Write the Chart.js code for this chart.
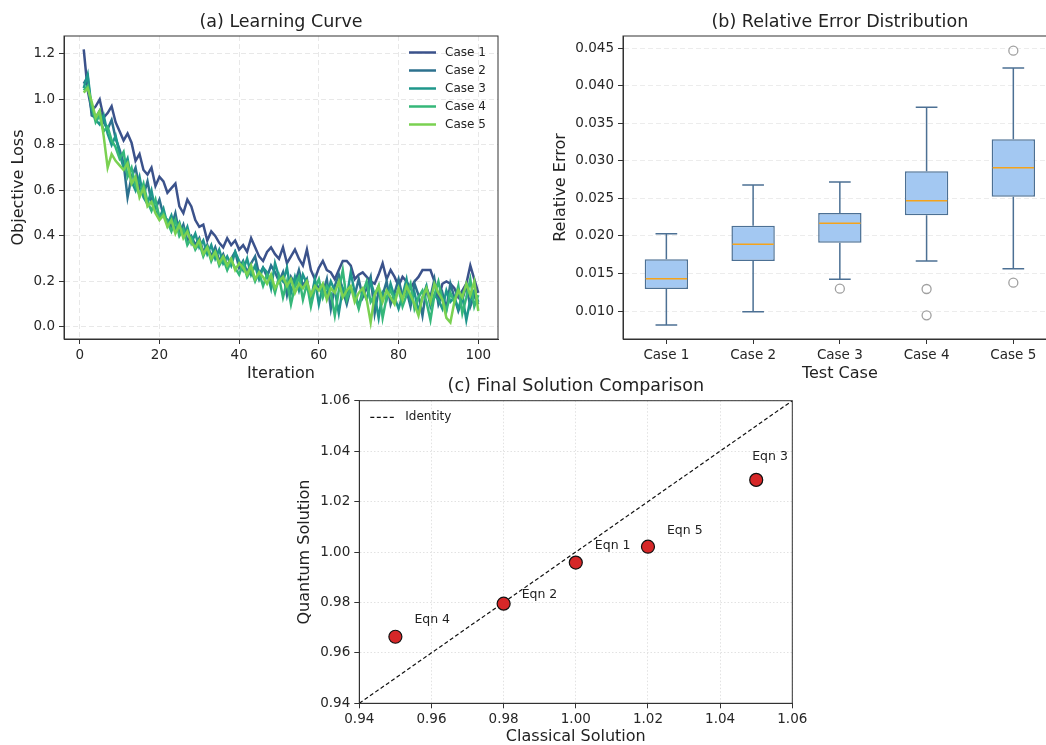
<!DOCTYPE html>
<html>
<head>
<meta charset="utf-8">
<script src="https://cdn.jsdelivr.net/npm/chart.js@4.4.1/dist/chart.umd.min.js"></script>
<style>
  html, body { margin: 0; padding: 0; background: #fff; overflow: hidden; width: 1046px; height: 745px; }
  canvas { position: absolute; }
  #learn { left: 0; top: 0; }
  #boxes { left: 530px; top: 0; }
  #compare { left: 280px; top: 370px; }
</style>
</head>
<body>
<canvas id="learn" width="520" height="390"></canvas>
<canvas id="boxes" width="540" height="390"></canvas>
<canvas id="compare" width="540" height="375"></canvas>
<script>
// ---- (a) learning curve data ----
const caseNames = ["Case 1", "Case 2", "Case 3", "Case 4", "Case 5"];
const caseColors = ["#3b528b", "#2c718e", "#1f978b", "#35b779", "#7ad151"];
const iterations = Array.from({ length: 100 }, (_, i) => i + 1);
const lossTicks = [0.0, 0.2, 0.4, 0.6, 0.8, 1.0, 1.2];
const iterTicks = [0, 20, 40, 60, 80, 100];

const lossCase1 = [
    1.22, 1.04, 0.95, 0.97, 1.00, 0.92, 0.94, 0.97, 0.90, 0.86,
    0.82, 0.85, 0.81, 0.73, 0.76, 0.69, 0.67, 0.70, 0.62, 0.66,
    0.64, 0.59, 0.61, 0.63, 0.53, 0.50, 0.56, 0.53, 0.47, 0.44,
    0.45, 0.38, 0.42, 0.40, 0.37, 0.35, 0.39, 0.36, 0.38, 0.34,
    0.36, 0.33, 0.39, 0.35, 0.31, 0.29, 0.33, 0.35, 0.32, 0.30,
    0.35, 0.28, 0.31, 0.34, 0.30, 0.27, 0.34, 0.25, 0.21, 0.26,
    0.29, 0.25, 0.24, 0.21, 0.25, 0.29, 0.29, 0.27, 0.21, 0.23,
    0.24, 0.22, 0.20, 0.19, 0.23, 0.28, 0.21, 0.25, 0.22, 0.18,
    0.22, 0.20, 0.17, 0.20, 0.22, 0.25, 0.25, 0.25, 0.20, 0.12,
    0.19, 0.20, 0.19, 0.17, 0.13, 0.16, 0.19, 0.27, 0.21, 0.15
];
const lossCase2 = [
    1.07, 1.10, 0.93, 0.92, 0.95, 0.90, 0.87, 0.91, 0.83, 0.78,
    0.72, 0.57, 0.66, 0.70, 0.61, 0.58, 0.64, 0.55, 0.52, 0.56,
    0.49, 0.47, 0.44, 0.50, 0.41, 0.45, 0.38, 0.40, 0.36, 0.39,
    0.33, 0.36, 0.31, 0.35, 0.29, 0.32, 0.27, 0.30, 0.33, 0.26,
    0.29, 0.24, 0.28, 0.31, 0.23, 0.26, 0.22, 0.27, 0.24, 0.20,
    0.24, 0.14, 0.22, 0.19, 0.25, 0.18, 0.21, 0.11, 0.20, 0.17,
    0.15, 0.21, 0.08, 0.18, 0.23, 0.16, 0.10, 0.17, 0.14, 0.21,
    0.13, 0.17, 0.22, 0.06, 0.16, 0.14, 0.20, 0.10, 0.15, 0.21,
    0.13, 0.16, 0.09, 0.19, 0.14, 0.05, 0.17, 0.13, 0.21, 0.10,
    0.15, 0.08, 0.19, 0.13, 0.07, 0.12, 0.18, 0.09, 0.14, 0.10
];
const lossCase3 = [
    1.05, 1.11, 0.96, 0.91, 0.89, 0.93, 0.85, 0.80, 0.84, 0.76,
    0.70, 0.74, 0.64, 0.60, 0.66, 0.57, 0.54, 0.60, 0.51, 0.48,
    0.52, 0.45, 0.49, 0.43, 0.46, 0.40, 0.44, 0.37, 0.41, 0.35,
    0.38, 0.32, 0.36, 0.30, 0.34, 0.28, 0.31, 0.27, 0.33, 0.29,
    0.25, 0.30, 0.23, 0.27, 0.21, 0.26, 0.24, 0.17, 0.28, 0.22,
    0.20, 0.26, 0.15, 0.22, 0.16, 0.23, 0.19, 0.12, 0.21, 0.10,
    0.18, 0.14, 0.20, 0.16, 0.06, 0.17, 0.13, 0.24, 0.15, 0.09,
    0.16, 0.12, 0.20, 0.14, 0.04, 0.15, 0.12, 0.19, 0.13, 0.08,
    0.14, 0.21, 0.11, 0.15, 0.07, 0.13, 0.18, 0.09, 0.14, 0.12,
    0.08, 0.16, 0.11, 0.13, 0.08, 0.14, 0.03, 0.12, 0.16, 0.11
];
const lossCase4 = [
    1.04, 1.06, 0.97, 0.90, 0.93, 0.86, 0.88, 0.82, 0.79, 0.74,
    0.77, 0.66, 0.70, 0.62, 0.58, 0.63, 0.55, 0.51, 0.56, 0.48,
    0.50, 0.46, 0.42, 0.47, 0.40, 0.43, 0.36, 0.39, 0.34, 0.37,
    0.31, 0.35, 0.29, 0.33, 0.27, 0.30, 0.25, 0.29, 0.26, 0.23,
    0.28, 0.22, 0.25, 0.20, 0.24, 0.18, 0.23, 0.21, 0.15, 0.22,
    0.13, 0.20, 0.10, 0.18, 0.22, 0.12, 0.19, 0.09, 0.17, 0.21,
    0.13, 0.18, 0.15, 0.05, 0.16, 0.25, 0.12, 0.17, 0.14, 0.08,
    0.15, 0.20, 0.11, 0.14, 0.18, 0.04, 0.13, 0.16, 0.12, 0.17,
    0.09, 0.14, 0.19, 0.08, 0.13, 0.16, 0.11, 0.03, 0.14, 0.20,
    0.12, 0.07, 0.15, 0.11, 0.18, 0.06, 0.13, 0.21, 0.09, 0.14
];
const lossCase5 = [
    1.03, 1.05, 0.99, 0.92, 0.95, 0.84, 0.70, 0.76, 0.73, 0.71,
    0.69, 0.72, 0.63, 0.66, 0.57, 0.61, 0.53, 0.55, 0.50, 0.47,
    0.49, 0.44, 0.47, 0.41, 0.45, 0.39, 0.42, 0.37, 0.35, 0.38,
    0.32, 0.35, 0.30, 0.33, 0.28, 0.31, 0.27, 0.30, 0.25, 0.28,
    0.26, 0.23, 0.27, 0.21, 0.24, 0.22, 0.19, 0.23, 0.17, 0.20,
    0.22, 0.18, 0.21, 0.15, 0.19, 0.17, 0.20, 0.14, 0.18, 0.16,
    0.19, 0.12, 0.17, 0.15, 0.20, 0.13, 0.16, 0.18, 0.11, 0.15,
    0.17, 0.12, 0.02, 0.14, 0.18, 0.11, 0.16, 0.13, 0.10, 0.17,
    0.12, 0.18, 0.14, 0.10, 0.05, 0.13, 0.17, 0.11, 0.19, 0.15,
    0.12, 0.04, 0.02, 0.11, 0.16, 0.13, 0.19, 0.14, 0.20, 0.07
];
const lossSeries = [lossCase1, lossCase2, lossCase3, lossCase4, lossCase5];

// ---- (b) relative error box plot data ----
const testCases = ["Case 1", "Case 2", "Case 3", "Case 4", "Case 5"];
const whiskerLow = [0.00813, 0.00991, 0.01422, 0.01666, 0.01564];
const q1 = [0.01293, 0.01666, 0.0191, 0.02275, 0.02523];
const medians = [0.0143, 0.01889, 0.02168, 0.0247, 0.02909];
const q3 = [0.01689, 0.02137, 0.02306, 0.02861, 0.03288];
const whiskerHigh = [0.0203, 0.02679, 0.02719, 0.03714, 0.04238];
const outlierCase = ["Case 3", "Case 4", "Case 4", "Case 5", "Case 5"];
const outlierValues = [0.01297, 0.01293, 0.00943, 0.04468, 0.01377];
const errTicks = [0.010, 0.015, 0.020, 0.025, 0.030, 0.035, 0.040, 0.045];

// ---- (c) final solution data ----
const eqnLabels = ["Eqn 1", "Eqn 2", "Eqn 3", "Eqn 4", "Eqn 5"];
const classical = [1.00, 0.98, 1.05, 0.95, 1.02];
const quantum = [0.9958, 0.9795, 1.0286, 0.9664, 1.0021];
const identityLine = [0.94, 1.06];
const solTicks = [0.94, 0.96, 0.98, 1.00, 1.02, 1.04, 1.06];

Chart.defaults.font.family = "'DejaVu Sans', sans-serif";
Chart.defaults.color = "#222";

const tickFont = { size: 13.5 };
const axisFont = { size: 16, lineHeight: 1.2 };
const titleFont = { size: 17.5, weight: "normal", lineHeight: 1.2 };

function setTicks(values) {
    return (axis) => { axis.ticks = values.map((v) => ({ value: v })); };
}

// box round the plot area (matplotlib spines)
const framePlugin = {
    id: "frame",
    afterDraw(chart) {
        const { ctx, chartArea: a } = chart;
        ctx.save();
        ctx.setLineDash([]);
        ctx.strokeStyle = "#333";
        ctx.lineWidth = 1;
        ctx.strokeRect(a.left, a.top, a.right - a.left, a.bottom - a.top);
        ctx.restore();
    },
};

// ---- chart (a) ----
const legendA = {
    id: "legendA",
    afterDraw(chart) {
        const { ctx, chartArea: a } = chart;
        ctx.save();
        ctx.font = "12px 'DejaVu Sans', sans-serif";
        ctx.textBaseline = "middle";
        caseNames.forEach((name, k) => {
            const y = a.top + 16.5 + k * 18;
            ctx.strokeStyle = caseColors[k];
            ctx.lineWidth = 2.5;
            ctx.beginPath();
            ctx.moveTo(a.right - 89, y);
            ctx.lineTo(a.right - 62, y);
            ctx.stroke();
            ctx.fillStyle = "#222";
            ctx.fillText(name, a.right - 53, y);
        });
        ctx.restore();
    },
};

new Chart(document.getElementById("learn"), {
    type: "line",
    data: {
        datasets: caseNames.map((name, k) => ({
            label: name,
            data: iterations.map((it, i) => ({ x: it, y: lossSeries[k][i] })),
            borderColor: caseColors[k],
            borderWidth: 2.5,
            pointRadius: 0,
            tension: 0,
            fill: false,
            order: caseNames.length - k,
        })),
    },
    options: {
        responsive: false,
        animation: false,
        events: [],
        layout: { padding: { right: 22 } },
        plugins: {
            legend: { display: false },
            tooltip: { enabled: false },
            title: {
                display: true,
                text: "(a) Learning Curve",
                fullSize: false,
                font: titleFont,
                color: "#222",
                padding: { top: 12, bottom: 3 },
            },
        },
        scales: {
            x: {
                type: "linear",
                min: -3.95,
                max: 104.95,
                afterBuildTicks: setTicks(iterTicks),
                afterFit: (s) => { s.height = 51; },
                ticks: { font: tickFont, color: "#262626", maxRotation: 0, autoSkip: false, padding: 3 },
                grid: { color: "#e8e8e8", tickColor: "#333", tickLength: 5 },
                border: { color: "#333", dash: [5, 3] },
                title: { display: true, text: "Iteration", font: axisFont, color: "#222", padding: { bottom: 6.4 } },
            },
            y: {
                min: -0.053,
                max: 1.279,
                afterBuildTicks: setTicks(lossTicks),
                afterFit: (s) => { s.width = 64; },
                ticks: { font: tickFont, color: "#262626", padding: 4, callback: (v) => v.toFixed(1) },
                grid: { color: "#e8e8e8", tickColor: "#333", tickLength: 5 },
                border: { color: "#333", dash: [5, 3] },
                title: { display: true, text: "Objective Loss", font: axisFont, color: "#222", padding: { top: 9.4 } },
            },
        },
    },
    plugins: [framePlugin, legendA],
});

// ---- chart (b) ----
const boxColor = "#4c7094";
const whiskerPlugin = {
    id: "whiskers",
    afterDatasetsDraw(chart) {
        const { ctx, scales: { x, y } } = chart;
        const step = x.getPixelForValue(1) - x.getPixelForValue(0);
        const cap = step * 0.125;
        const half = step * 0.25;
        ctx.save();
        testCases.forEach((c, i) => {
            const cx = x.getPixelForValue(i);
            ctx.strokeStyle = boxColor;
            ctx.lineWidth = 1.5;
            ctx.beginPath();
            ctx.moveTo(cx, y.getPixelForValue(q3[i]));
            ctx.lineTo(cx, y.getPixelForValue(whiskerHigh[i]));
            ctx.moveTo(cx - cap, y.getPixelForValue(whiskerHigh[i]));
            ctx.lineTo(cx + cap, y.getPixelForValue(whiskerHigh[i]));
            ctx.moveTo(cx, y.getPixelForValue(q1[i]));
            ctx.lineTo(cx, y.getPixelForValue(whiskerLow[i]));
            ctx.moveTo(cx - cap, y.getPixelForValue(whiskerLow[i]));
            ctx.lineTo(cx + cap, y.getPixelForValue(whiskerLow[i]));
            ctx.stroke();
            ctx.strokeStyle = "#f5a31b";
            ctx.lineWidth = 1.5;
            ctx.beginPath();
            ctx.moveTo(cx - half + 1, y.getPixelForValue(medians[i]));
            ctx.lineTo(cx + half - 1, y.getPixelForValue(medians[i]));
            ctx.stroke();
        });
        ctx.restore();
    },
};

new Chart(document.getElementById("boxes"), {
    type: "bar",
    data: {
        labels: testCases,
        datasets: [
            {
                type: "bar",
                data: q1.map((v, i) => [v, q3[i]]),
                backgroundColor: "#a3c8f2",
                borderColor: boxColor,
                borderWidth: 1.5,
                borderSkipped: false,
                barPercentage: 0.5,
                categoryPercentage: 1,
            },
            {
                type: "scatter",
                data: outlierCase.map((c, i) => ({ x: c, y: outlierValues[i] })),
                pointStyle: "circle",
                pointRadius: 4.5,
                borderColor: "#a0a0a0",
                backgroundColor: "rgba(0,0,0,0)",
                borderWidth: 1.3,
            },
        ],
    },
    options: {
        responsive: false,
        animation: false,
        events: [],
        layout: { padding: { right: 13.3 } },
        plugins: {
            legend: { display: false },
            tooltip: { enabled: false },
            title: {
                display: true,
                text: "(b) Relative Error Distribution",
                fullSize: false,
                font: titleFont,
                color: "#222",
                padding: { top: 12, bottom: 3 },
            },
        },
        scales: {
            x: {
                type: "category",
                offset: true,
                afterFit: (s) => { s.height = 51; },
                ticks: { font: tickFont, color: "#262626", maxRotation: 0, autoSkip: false, padding: 3 },
                grid: { offset: false, drawOnChartArea: false, color: "#333", tickColor: "#333", tickLength: 5 },
                border: { color: "#333" },
                title: { display: true, text: "Test Case", font: axisFont, color: "#222", padding: { bottom: 6.4 } },
            },
            y: {
                min: 0.00627,
                max: 0.04664,
                afterBuildTicks: setTicks(errTicks),
                afterFit: (s) => { s.width = 93; },
                ticks: { font: tickFont, color: "#262626", padding: 4, callback: (v) => v.toFixed(3) },
                grid: { color: "#ececec", tickColor: "#333", tickLength: 5 },
                border: { color: "#333", dash: [5, 3] },
                title: { display: true, text: "Relative Error", font: axisFont, color: "#222", padding: { top: 21.4 } },
            },
        },
    },
    plugins: [framePlugin, whiskerPlugin],
});

// ---- chart (c) ----
const eqnLabelShift = [[19, -17], [18, -9], [-4, -23], [19, -17], [19, -16]];
const eqnPlugin = {
    id: "eqnLabels",
    afterDraw(chart) {
        const { ctx, chartArea: a, scales: { x, y } } = chart;
        ctx.save();
        ctx.font = "12.5px 'DejaVu Sans', sans-serif";
        ctx.fillStyle = "#222";
        ctx.textBaseline = "middle";
        eqnLabels.forEach((lab, i) => {
            ctx.fillText(lab, x.getPixelForValue(classical[i]) + eqnLabelShift[i][0],
                y.getPixelForValue(quantum[i]) + eqnLabelShift[i][1]);
        });
        // legend entry for the identity line
        const ly = a.top + 16.6;
        ctx.font = "12px 'DejaVu Sans', sans-serif";
        ctx.strokeStyle = "#111";
        ctx.lineWidth = 1.2;
        ctx.setLineDash([4, 2.5]);
        ctx.beginPath();
        ctx.moveTo(a.left + 11, ly);
        ctx.lineTo(a.left + 36, ly);
        ctx.stroke();
        ctx.setLineDash([]);
        ctx.fillText("Identity", a.left + 46, ly);
        ctx.restore();
    },
};

new Chart(document.getElementById("compare"), {
    type: "scatter",
    data: {
        datasets: [
            {
                type: "scatter",
                label: "Equations",
                data: classical.map((c, i) => ({ x: c, y: quantum[i] })),
                pointRadius: 6.5,
                backgroundColor: "#d62728",
                borderColor: "#111",
                borderWidth: 1.2,
                order: 0,
            },
            {
                type: "line",
                label: "Identity",
                data: identityLine.map((v) => ({ x: v, y: v })),
                borderColor: "#111",
                borderWidth: 1.2,
                borderDash: [4, 2.5],
                pointRadius: 0,
                fill: false,
                order: 1,
            },
        ],
    },
    options: {
        responsive: false,
        animation: false,
        events: [],
        layout: { padding: { right: 27.7 } },
        plugins: {
            legend: { display: false },
            tooltip: { enabled: false },
            title: {
                display: true,
                text: "(c) Final Solution Comparison",
                fullSize: false,
                font: titleFont,
                color: "#222",
                padding: { top: 5.5, bottom: 4.2 },
            },
        },
        scales: {
            x: {
                type: "linear",
                min: 0.94,
                max: 1.06,
                afterBuildTicks: setTicks(solTicks),
                afterFit: (s) => { s.height = 41.7; },
                ticks: { font: tickFont, color: "#262626", maxRotation: 0, autoSkip: false, padding: 3, callback: (v) => v.toFixed(2) },
                grid: { color: "#e2e2e2", tickColor: "#333", tickLength: 5 },
                border: { color: "#333", dash: [1.5, 2] },
                title: { display: true, text: "Classical Solution", font: { size: 16, lineHeight: 1 }, color: "#222", padding: { bottom: 0 } },
            },
            y: {
                min: 0.94,
                max: 1.06,
                afterBuildTicks: setTicks(solTicks),
                afterFit: (s) => { s.width = 79.3; },
                ticks: { font: tickFont, color: "#262626", padding: 4, callback: (v) => v.toFixed(2) },
                grid: { color: "#e2e2e2", tickColor: "#333", tickLength: 5 },
                border: { color: "#333", dash: [1.5, 2] },
                title: { display: true, text: "Quantum Solution", font: axisFont, color: "#222", padding: { top: 15.4 } },
            },
        },
    },
    plugins: [framePlugin, eqnPlugin],
});
</script>
</body>
</html>
